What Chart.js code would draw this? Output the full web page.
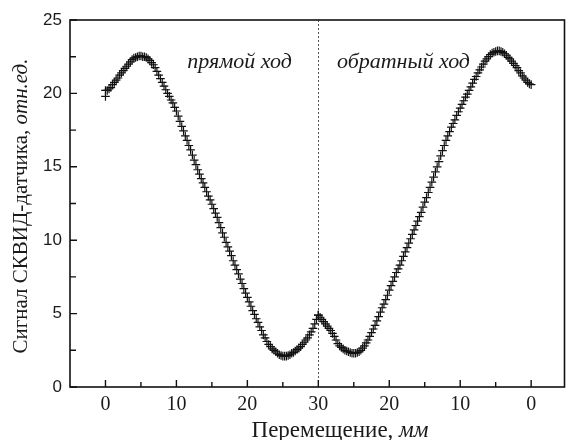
<!DOCTYPE html>
<html>
<head>
<meta charset="utf-8">
<script src="https://cdn.jsdelivr.net/npm/chart.js@4.4.1/dist/chart.umd.min.js"></script>
<style>
html,body{margin:0;padding:0;background:#fff;}
canvas{display:block;}
</style>
</head>
<body>
<canvas id="c" width="570" height="440"></canvas>
<script>
// ---- data ----
const STEP_MM = 0.25;
// forward pass (прямой ход), positions 0 .. 30 mm
const forwardSignal = [
20.2,20.2,20.3,20.4,20.6,20.75,20.9,21.05,21.25,21.4,21.55,21.7,21.85,22.0,22.15,22.3,22.4,22.45,22.5,22.55,
22.55,22.5,22.5,22.45,22.35,22.25,22.1,21.95,21.75,21.5,21.25,21.0,20.75,20.5,20.25,20.0,19.8,19.55,19.35,19.05,
18.8,18.45,18.1,17.75,17.45,17.1,16.8,16.45,16.15,15.8,15.45,15.15,14.8,14.5,14.2,13.9,13.6,13.3,13.0,12.75,
12.45,12.15,11.85,11.55,11.2,10.85,10.5,10.2,9.85,9.55,9.25,8.95,8.6,8.3,8.0,7.7,7.35,7.05,6.7,6.4,
6.1,5.8,5.5,5.2,4.95,4.65,4.4,4.1,3.85,3.55,3.35,3.1,2.9,2.75,2.6,2.5,2.4,2.3,2.2,2.15,
2.1,2.1,2.1,2.15,2.2,2.3,2.35,2.45,2.55,2.65,2.75,2.9,3.05,3.2,3.35,3.55,3.75,4.0,4.3,4.6,
4.9
];
// backward pass (обратный ход), plotted from 30 to 60 on the axis (labels 30 .. 0 mm)
const backwardSignal = [
4.9,4.75,4.6,4.45,4.3,4.15,4.0,3.85,3.65,3.45,3.2,2.95,2.8,2.7,2.6,2.5,2.45,2.4,2.35,2.3,
2.3,2.3,2.35,2.4,2.5,2.65,2.8,3.0,3.2,3.45,3.7,3.95,4.2,4.5,4.8,5.1,5.4,5.65,5.95,6.25,
6.6,6.9,7.2,7.5,7.8,8.05,8.3,8.6,8.9,9.2,9.5,9.8,10.1,10.4,10.7,11.0,11.3,11.6,11.9,12.25,
12.6,12.9,13.25,13.6,13.95,14.3,14.65,15.0,15.35,15.75,16.1,16.45,16.8,17.1,17.4,17.7,17.95,18.2,18.5,18.75,
19.0,19.25,19.5,19.75,19.95,20.2,20.45,20.7,20.95,21.15,21.4,21.6,21.8,22.0,22.2,22.35,22.5,22.65,22.75,22.8,
22.85,22.9,22.9,22.85,22.8,22.7,22.6,22.45,22.35,22.2,22.05,21.9,21.75,21.55,21.4,21.2,21.05,20.9,20.75,20.65,
20.6
];
const extraPoints = [{x:0, y:19.8}];
const xTicks = [0,10,20,30,40,50,60];
const xMinorTicks = [5,15,25,35,45,55];
const yTicks = [0,5,10,15,20,25];
const yMinorTicks = [2.5,7.5,12.5,17.5,22.5];
const turnPoint = 30;
const xTitle = ["Перемещение, ", "мм"];
const yTitle = ["Сигнал СКВИД-датчика, ", "отн.ед."];
const notes = [
  {text:"прямой ход", x:18.9, y:22.1},
  {text:"обратный ход", x:42.0, y:22.1}
];

const fwdPts = forwardSignal.map((v,i)=>({x:i*STEP_MM, y:v})).concat(extraPoints);
const bwdPts = backwardSignal.map((v,i)=>({x:turnPoint + i*STEP_MM, y:v}));

const SERIF = '"Liberation Serif","Times New Roman",serif';
const SANS = '"Liberation Sans",Arial,sans-serif';

const decor = {
  id:'decor',
  beforeDatasetsDraw(chart){
    const {ctx, chartArea:a, scales:{x,y}} = chart;
    ctx.save();
    // dotted line at the turning point
    const xp = Math.round(x.getPixelForValue(turnPoint))+0.5;
    ctx.strokeStyle = '#555';
    ctx.lineWidth = 1;
    ctx.setLineDash([2,2]);
    ctx.beginPath(); ctx.moveTo(xp, a.top); ctx.lineTo(xp, a.bottom); ctx.stroke();
    ctx.setLineDash([]);
    // notes
    ctx.fillStyle = '#1a1a1a';
    ctx.font = 'italic 22px ' + SERIF;
    ctx.textAlign = 'center';
    ctx.textBaseline = 'middle';
    notes.forEach(n=>ctx.fillText(n.text, x.getPixelForValue(n.x), y.getPixelForValue(n.y)));
    ctx.restore();
  },
  afterDraw(chart){
    const {ctx, chartArea:a, scales:{x,y}} = chart;
    ctx.save();
    // frame
    ctx.strokeStyle = '#111';
    ctx.lineWidth = 1.6;
    ctx.strokeRect(a.left, a.top, a.right-a.left, a.bottom-a.top);
    // ticks (inward)
    ctx.lineWidth = 1.4;
    ctx.beginPath();
    xTicks.forEach(v=>{const p=x.getPixelForValue(v); ctx.moveTo(p,a.bottom); ctx.lineTo(p,a.bottom-7);});
    xMinorTicks.forEach(v=>{const p=x.getPixelForValue(v); ctx.moveTo(p,a.bottom); ctx.lineTo(p,a.bottom-5);});
    yTicks.forEach(v=>{const p=y.getPixelForValue(v); ctx.moveTo(a.left,p); ctx.lineTo(a.left+7,p);});
    yMinorTicks.forEach(v=>{const p=y.getPixelForValue(v); ctx.moveTo(a.left,p); ctx.lineTo(a.left+6,p);});
    ctx.stroke();
    // axis titles (mixed upright/italic)
    ctx.fillStyle = '#1a1a1a';
    ctx.textBaseline = 'alphabetic';
    ctx.textAlign = 'left';
    let f1 = '23px ' + SERIF, f2 = 'italic 23px ' + SERIF;
    ctx.font = f1; const w1 = ctx.measureText(xTitle[0]).width;
    ctx.font = f2; const w2 = ctx.measureText(xTitle[1]).width;
    let sx = 340 - (w1+w2)/2;
    ctx.font = f1; ctx.fillText(xTitle[0], sx, 437);
    ctx.font = f2; ctx.fillText(xTitle[1], sx+w1, 437);
    f1 = '21px ' + SERIF; f2 = 'italic 21px ' + SERIF;
    ctx.font = f1; const v1 = ctx.measureText(yTitle[0]).width;
    ctx.font = f2; const v2 = ctx.measureText(yTitle[1]).width;
    ctx.translate(27, 206);
    ctx.rotate(-Math.PI/2);
    let sy = -(v1+v2)/2;
    ctx.font = f1; ctx.fillText(yTitle[0], sy, 0);
    ctx.font = f2; ctx.fillText(yTitle[1], sy+v1, 0);
    ctx.restore();
  }
};

const ptStyle = {pointStyle:'cross', pointRadius:4.3, pointBorderWidth:1.2, borderColor:'#111', backgroundColor:'#111', showLine:false};

new Chart(document.getElementById('c'), {
  type:'scatter',
  data:{datasets:[
    Object.assign({label:'прямой ход', data:fwdPts}, ptStyle),
    Object.assign({label:'обратный ход', data:bwdPts}, ptStyle)
  ]},
  options:{
    responsive:false,
    animation:false,
    layout:{padding:{left:0, right:2, top:20, bottom:0}},
    plugins:{legend:{display:false}, tooltip:{enabled:false}},
    scales:{
      x:{
        type:'linear', min:-5, max:64.7,
        grid:{display:false, tickLength:0}, border:{display:false},
        afterBuildTicks(s){ s.ticks = xTicks.map(v=>({value:v})); },
        afterFit(s){ s.height = 53; },
        ticks:{
          autoSkip:false, maxRotation:0, padding:6, color:'#1a1a1a',
          font:{family:SERIF, size:20},
          callback:(v)=> String(v <= turnPoint ? v : 2*turnPoint - v)
        }
      },
      y:{
        min:0, max:25,
        grid:{display:false, tickLength:0}, border:{display:false},
        afterBuildTicks(s){ s.ticks = yTicks.map(v=>({value:v})); },
        afterFit(s){ s.width = 70; },
        ticks:{ padding:8, color:'#1a1a1a', font:{family:SANS, size:17} }
      }
    }
  },
  plugins:[decor]
});
</script>
</body>
</html>
